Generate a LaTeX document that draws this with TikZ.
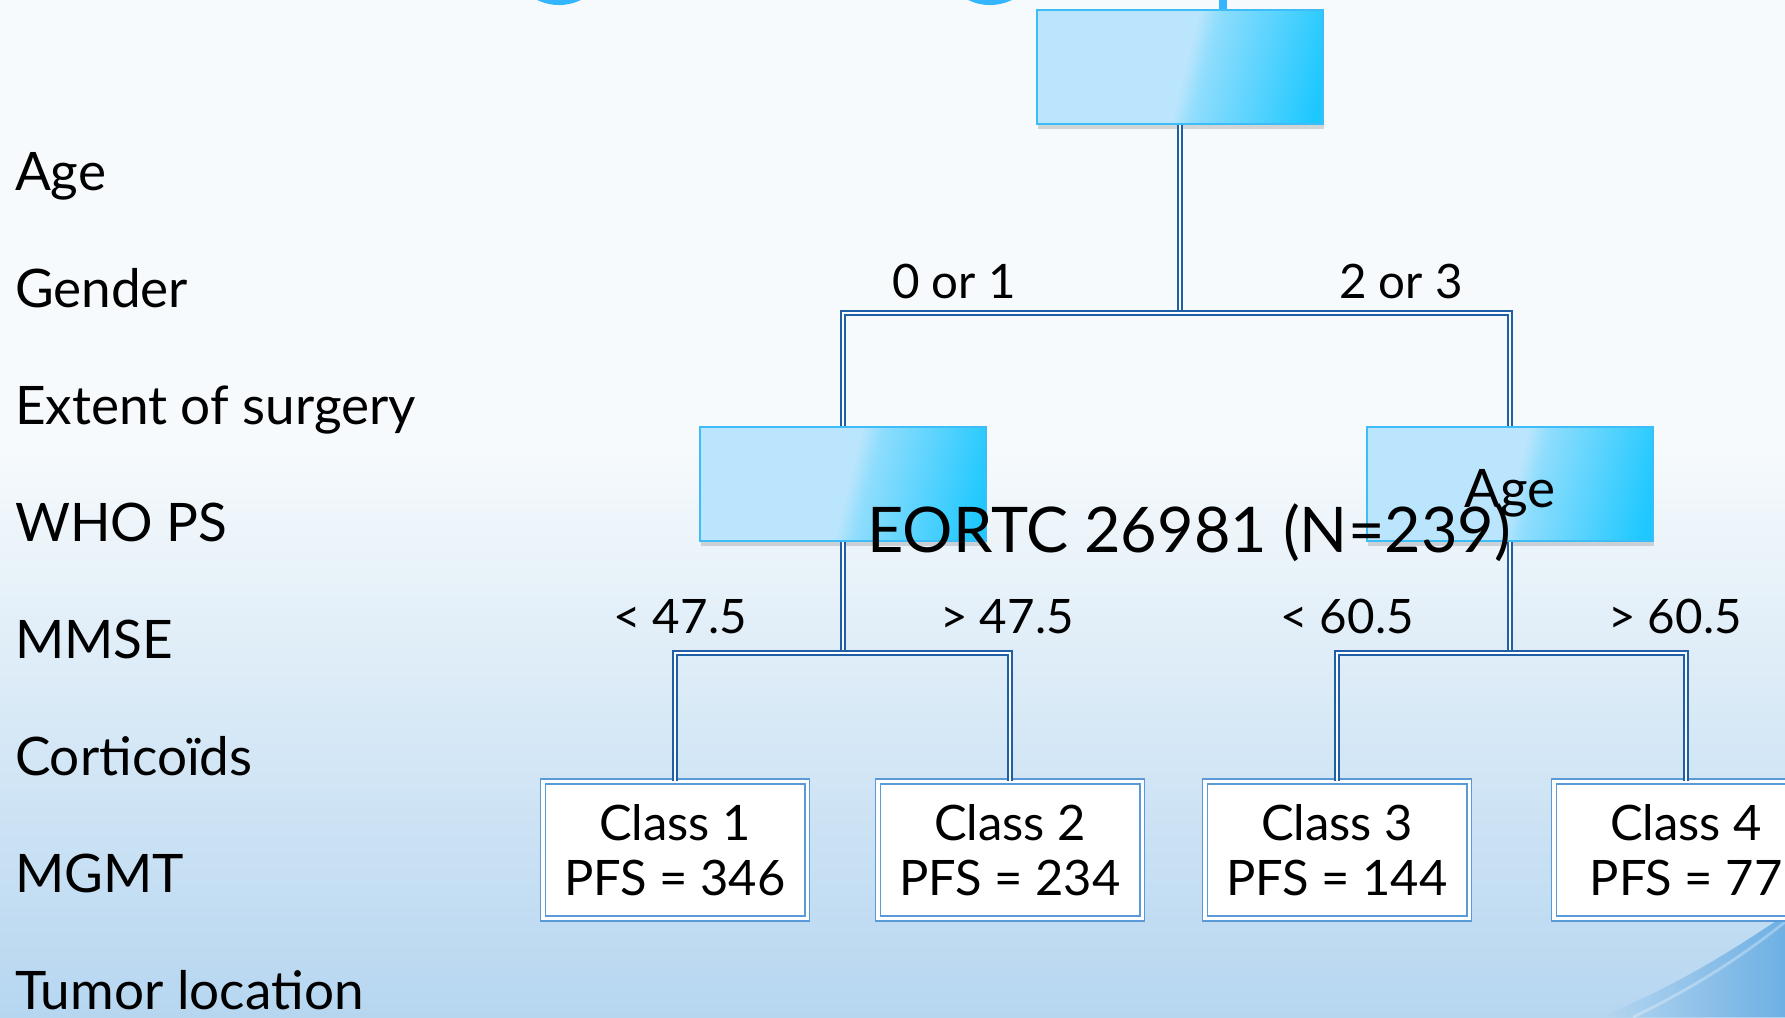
\documentclass[tikz,border=0pt]{standalone}
\usepackage{fontspec}
\setmainfont{Lato}
\usetikzlibrary{matrix,shadows}

\definecolor{bgtop}{RGB}{246,250,252}
\definecolor{bgbot}{RGB}{182,214,240}
\definecolor{swoosh}{RGB}{110,176,228}
\definecolor{topblue}{RGB}{51,181,255}
\definecolor{boxlight}{RGB}{186,229,252}
\definecolor{boxdeep}{RGB}{30,200,255}
\definecolor{boxedge}{RGB}{61,189,248}
\definecolor{connblue}{RGB}{30,95,165}
\definecolor{leafedge}{RGB}{90,154,216}

\pgfdeclarehorizontalshading{boxgloss}{100bp}{color(0bp)=(boxlight); color(51bp)=(boxlight);
    color(55bp)=(boxlight!72!boxdeep); color(78bp)=(boxdeep); color(100bp)=(boxdeep)}

\newcommand\factorfont{\fontsize{15.1}{18}\selectfont}
\newcommand\leaffont{\fontsize{13.9}{15.6}\selectfont}
\newcommand\splitfont{\fontsize{13.5}{16}\selectfont}
\newcommand\titlefont{\fontsize{17.9}{21}\selectfont}

\tikzset{
    tnode/.style={draw=boxedge, line width=0.7pt, shade, shading=boxgloss, shading angle=-14,
        minimum width=2.86cm, minimum height=1.14cm, font=\factorfont,
        drop shadow={shadow xshift=0.3pt, shadow yshift=-1.5pt, opacity=0.3}},
    leaf/.style={draw=leafedge, line width=0.45pt, double=white, double distance=0.9pt,
        fill=white, minimum width=2.64cm, minimum height=1.37cm, align=center, font=\leaffont},
    conn/.style={draw=connblue, line width=0.45pt, double=white, double distance=0.6pt},
    split/.style={anchor=base, font=\splitfont}
}

\def\Factors{
    \matrix (factors)
    [matrix of nodes,
    matrix anchor=north west,
    inner sep=0pt, outer sep=0pt,
    row sep={0.65cm},
    nodes={anchor=base west, inner sep=0pt, outer sep=0pt, text height=0.4cm, text depth=0.12cm, font=\factorfont}]
    at (15,150)
    {
     Age \\
     Gender \\
     Extent of surgery \\
     WHO PS \\
     MMSE \\
     Corticoïds \\
     MGMT \\
     Tumor location \\
    };
}

\begin{document}
\begin{tikzpicture}[x=0.01cm, y=-0.01cm]
    \clip (0,0) rectangle (1785,1017);
    \fill[bgtop] (0,0) rectangle (1785,1017);
    \shade[top color=bgtop, bottom color=bgbot] (0,450) rectangle (1785,1017);
    \shade[left color=bgbot, right color=swoosh] (1600,1017) .. controls (1680,985) and (1740,945) .. (1785,915) -- (1785,1017) -- cycle;
    \draw[white, opacity=0.3, line width=0.8pt] (1633,1017) .. controls (1700,985) and (1750,950) .. (1785,922);
    \fill[topblue] (559,-45) circle (0.5cm);
    \fill[topblue] (990,-45) circle (0.5cm);

    \Factors

    % tree
    \node[tnode] (root) at (1180,67) {};
    \node[tnode] (nleft) at (843,484) {};
    \node[tnode, text height=0.46cm, text depth=0cm] (nright) at (1510,484) {Age};
    \node[leaf] (c1) at (675,850) {Class 1\\PFS = 346};
    \node[leaf] (c2) at (1010,850) {Class 2\\PFS = 234};
    \node[leaf] (c3) at (1337,850) {Class 3\\PFS = 144};
    \node[leaf] (c4) at (1686,850) {Class 4\\PFS = 77};

    \coordinate (up) at (1223,-10);
    \draw[topblue, line width=2.3pt] (up) -- (up |- root.north);

    \draw[conn] (root.south) -- (root.south |- 0,313);
    \draw[conn] (nleft.north) -- (nleft.north |- 0,313) -- (nright.north |- 0,313) -- (nright.north);
    \draw[conn] (nleft.south) -- (nleft.south |- 0,653);
    \draw[conn] (c1.north) -- (c1.north |- 0,653) -- (c2.north |- 0,653) -- (c2.north);
    \draw[conn] (nright.south) -- (nright.south |- 0,653);
    \draw[conn] (c3.north) -- (c3.north |- 0,653) -- (c4.north |- 0,653) -- (c4.north);

    \node[split] (s01) at (954,298) {0 or 1};
    \node[split] (s23) at (1401,298) {2 or 3};
    \node[split] (slo1) at (680,633) {< 47.5};
    \node[split] (shi1) at (1007,633) {> 47.5};
    \node[split] (slo2) at (1347,633) {< 60.5};
    \node[split] (shi2) at (1675,633) {> 60.5};

    \node[anchor=base, font=\titlefont, inner sep=0pt] (title) at (1189,552) {EORTC 26981 (N=239)};
\end{tikzpicture}
\end{document}
